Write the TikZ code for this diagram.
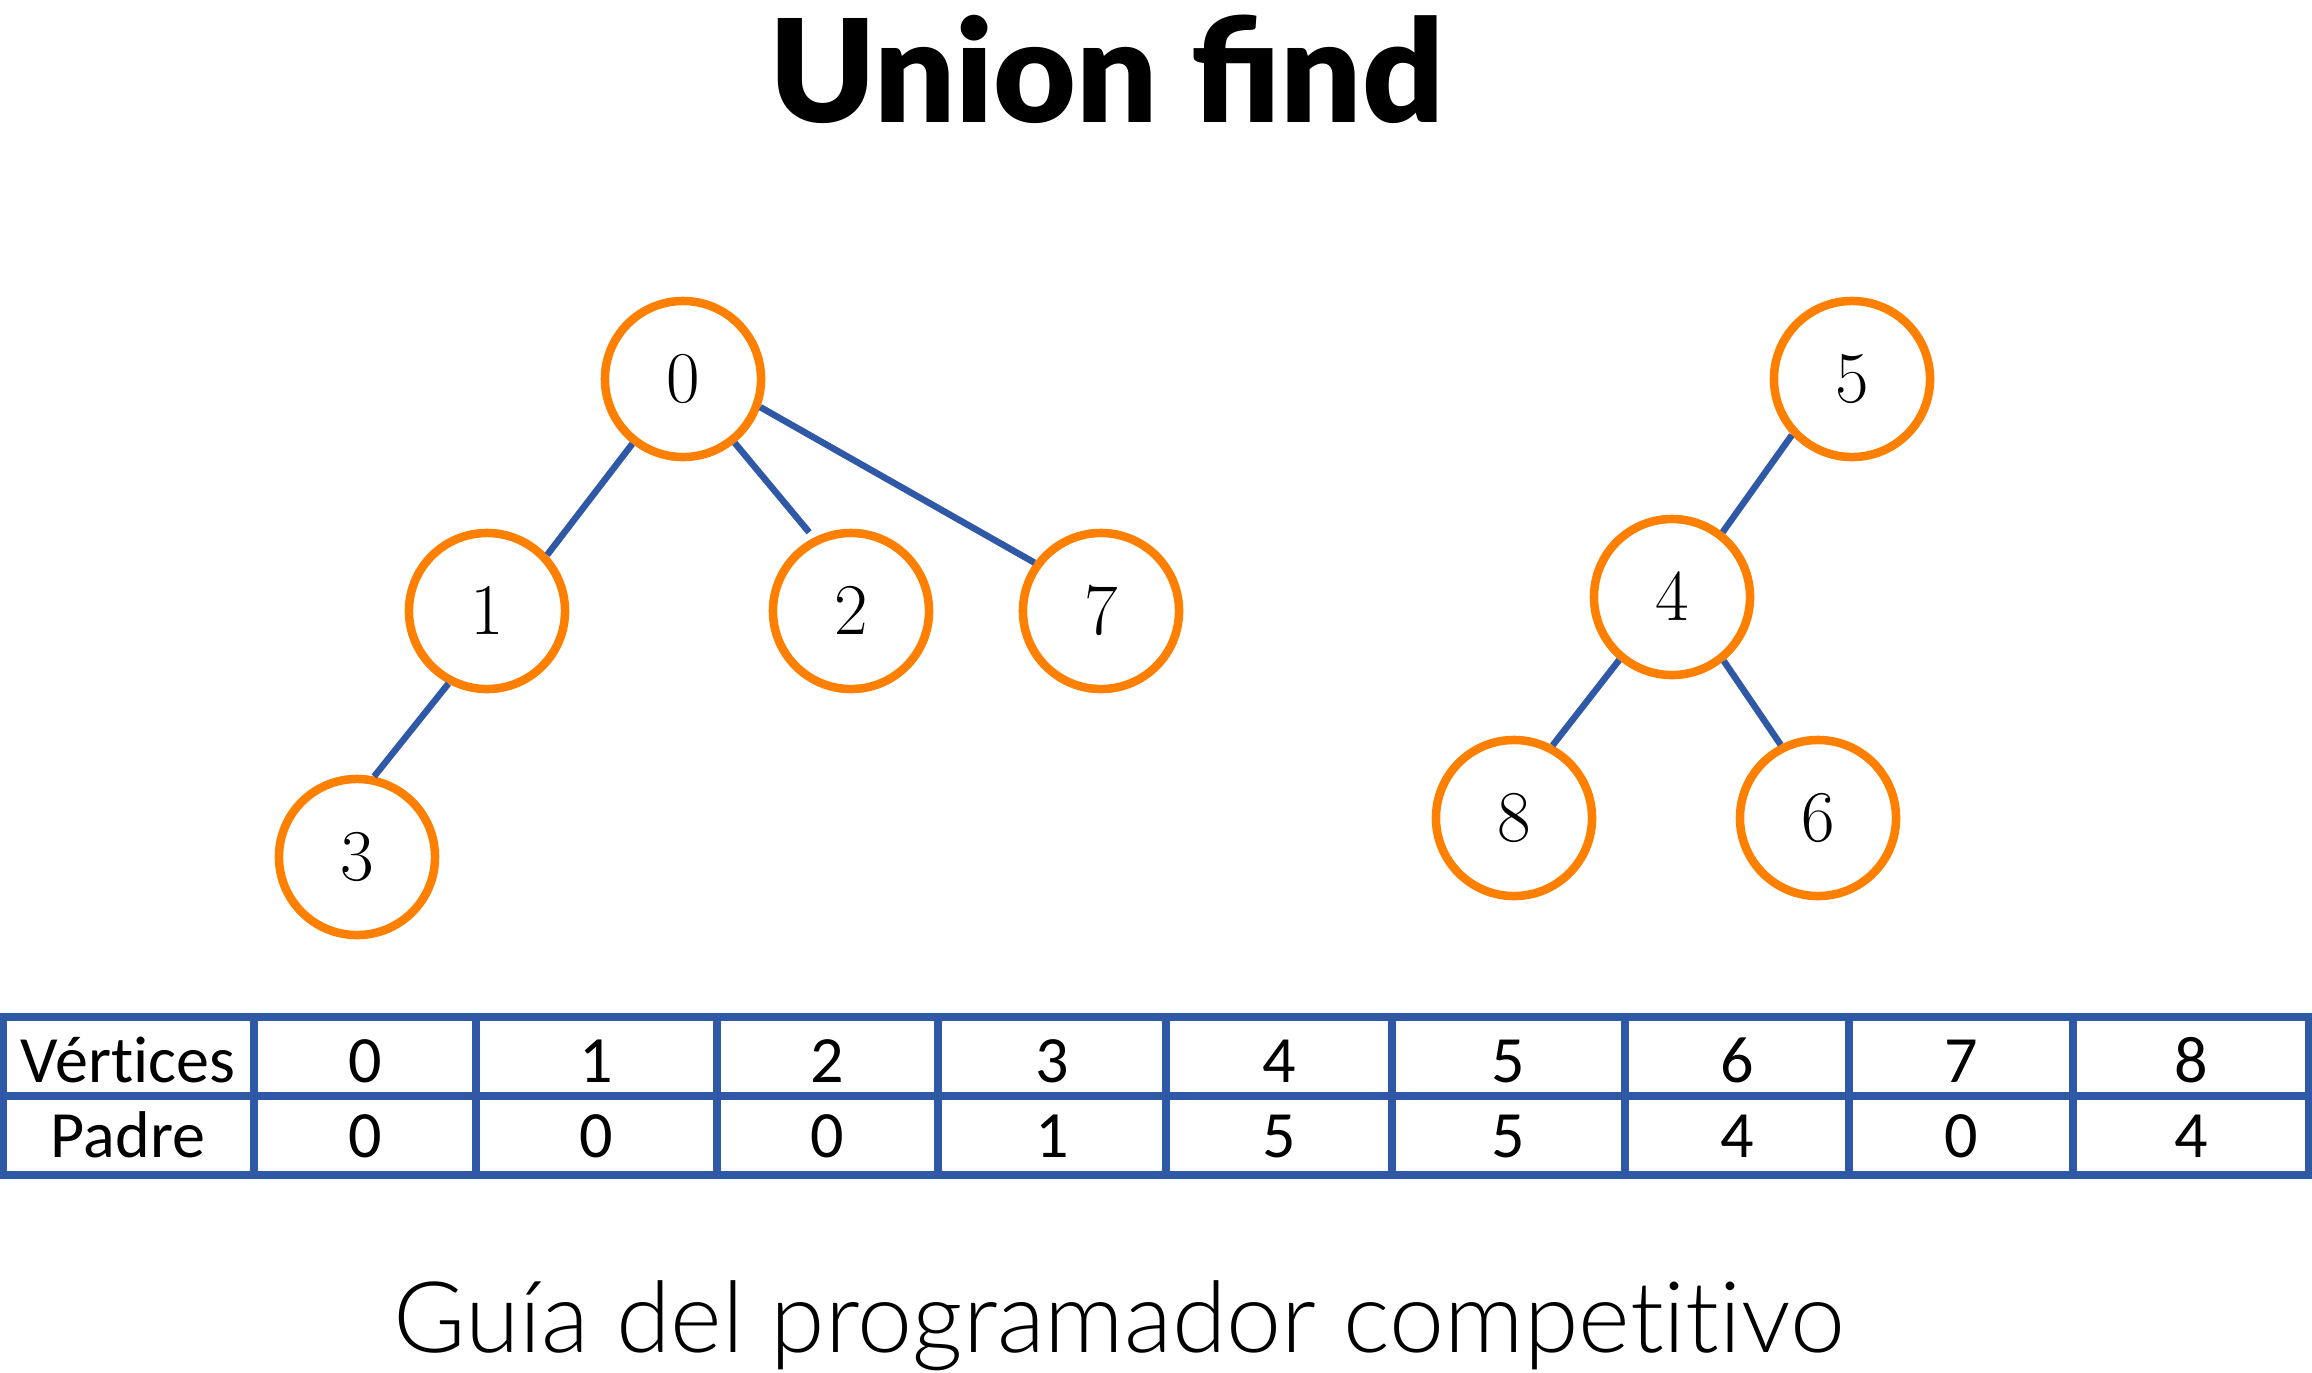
\documentclass[tikz,border=0pt]{standalone}
\usepackage{fontspec}
\newfontfamily\titlefont{Lato Black}
\newfontfamily\footfont[Ligatures=NoCommon,Contextuals=NoAlternate]{Lato Light}
\newfontfamily\tablefont[Ligatures=NoCommon,Contextuals=NoAlternate]{Carlito}
\definecolor{treeorange}{RGB}{255,128,0}
\definecolor{edgeblue}{RGB}{47,88,166}
\tikzset{
  vertex/.style={draw=treeorange,circle,line width=0.085cm,minimum size=1.56cm,
    inner sep=0pt,font=\fontsize{19.6}{24}\selectfont},
  link/.style={draw=edgeblue,line width=0.065cm},
  grid line/.style={draw=edgeblue,line width=0.072cm},
  cell/.style={anchor=base,inner sep=0pt,font=\tablefont\fontsize{18.8}{22}\selectfont}
}
\begin{document}
\begin{tikzpicture}[x=0.01cm,y=-0.01cm]
  \useasboundingbox (0,0) rectangle (2312,1372);

  \node[anchor=base,inner sep=0pt,font=\titlefont\fontsize{40.6}{48}\selectfont] (title) at (1107,122) {Union find};

  \def \Nodes {
    0/683/379,
    1/487/611,
    2/851/611,
    7/1101/611,
    3/357/857,
    5/1852/379,
    4/1672/597,
    8/1514/818,
    6/1818/818}
  \def \Edges {
    0/232/1/43,
    0/340/7/144,
    1/242/3/78,
    5/223/4/52,
    4/230/8/62,
    4/309/6/117}

  \foreach \id / \x / \y in \Nodes {
    \node[vertex] (\id) at (\x, \y) {$\id$};
  }
  \foreach \a / \ang / \b / \bng in \Edges {
    \path[link] (\a.\ang) -- (\b.\bng);
  }
  \path[link,shorten >=0.07cm] (0.309) -- (2.117);

  % tabla de padres
  \path[grid line] (3,1017) rectangle (2309,1175);
  \path[grid line] (3,1096) -- (2309,1096);
  \foreach \xl in {254,476,717,938,1166,1392,1625,1849,2073} {
    \path[grid line] (\xl,1017) -- (\xl,1175);
  }
  \node[cell] (vhead) at (128,1082) {Vértices};
  \node[cell] (phead) at (128,1157) {Padre};
  \foreach \v / \xl / \xr / \p in {
    0/254/476/0,
    1/476/717/0,
    2/717/938/0,
    3/938/1166/1,
    4/1166/1392/5,
    5/1392/1625/5,
    6/1625/1849/4,
    7/1849/2073/0,
    8/2073/2309/4} {
    \node[cell] (v\v) at ({(\xl+\xr)/2},1082) {\v};
    \node[cell] (p\v) at ({(\xl+\xr)/2},1157) {\p};
  }

  \node[anchor=base,inner sep=0pt,font=\footfont\fontsize{28.1}{32}\selectfont] (foot) at (1119,1352) {Guía del programador competitivo};
\end{tikzpicture}
\end{document}
